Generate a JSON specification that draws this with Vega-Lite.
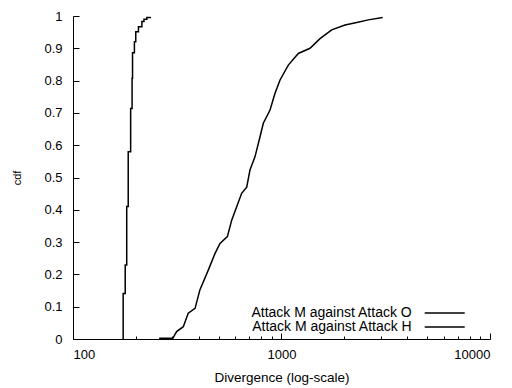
{
  "$schema": "https://vega.github.io/schema/vega-lite/v6.json",
  "width": 417,
  "height": 323,
  "autosize": {"type": "none"},
  "padding": {"left": 73, "top": 16, "right": 22, "bottom": 49},
  "background": "white",
  "config": {
    "view": {"stroke": null},
    "font": "Liberation Sans",
    "axis": {
      "grid": false,
      "domainColor": "black",
      "domainWidth": 1,
      "tickColor": "black",
      "tickWidth": 1,
      "labelColor": "black",
      "labelFontSize": 13,
      "titleColor": "black",
      "titleFontWeight": "normal",
      "labelOverlap": false
    }
  },
  "datasets": {
    "o": [
      {"series": "Attack M against Attack O", "x": 173, "y": 0},
      {"series": "Attack M against Attack O", "x": 174, "y": 0.141},
      {"series": "Attack M against Attack O", "x": 178, "y": 0.229},
      {"series": "Attack M against Attack O", "x": 181, "y": 0.41},
      {"series": "Attack M against Attack O", "x": 184, "y": 0.58},
      {"series": "Attack M against Attack O", "x": 189, "y": 0.714},
      {"series": "Attack M against Attack O", "x": 192, "y": 0.807},
      {"series": "Attack M against Attack O", "x": 193, "y": 0.886},
      {"series": "Attack M against Attack O", "x": 197, "y": 0.92},
      {"series": "Attack M against Attack O", "x": 200, "y": 0.951},
      {"series": "Attack M against Attack O", "x": 206, "y": 0.967},
      {"series": "Attack M against Attack O", "x": 214, "y": 0.983},
      {"series": "Attack M against Attack O", "x": 219, "y": 0.99},
      {"series": "Attack M against Attack O", "x": 226, "y": 0.995},
      {"series": "Attack M against Attack O", "x": 235, "y": 0.997}
    ],
    "h": [
      {"series": "Attack M against Attack H", "x": 259, "y": 0.002},
      {"series": "Attack M against Attack H", "x": 301, "y": 0.002},
      {"series": "Attack M against Attack H", "x": 314, "y": 0.023},
      {"series": "Attack M against Attack H", "x": 338, "y": 0.038},
      {"series": "Attack M against Attack H", "x": 357, "y": 0.08},
      {"series": "Attack M against Attack H", "x": 385, "y": 0.095},
      {"series": "Attack M against Attack H", "x": 406, "y": 0.152},
      {"series": "Attack M against Attack H", "x": 446, "y": 0.214},
      {"series": "Attack M against Attack H", "x": 480, "y": 0.265},
      {"series": "Attack M against Attack H", "x": 507, "y": 0.296},
      {"series": "Attack M against Attack H", "x": 550, "y": 0.317},
      {"series": "Attack M against Attack H", "x": 577, "y": 0.368},
      {"series": "Attack M against Attack H", "x": 614, "y": 0.415},
      {"series": "Attack M against Attack H", "x": 644, "y": 0.451},
      {"series": "Attack M against Attack H", "x": 681, "y": 0.47},
      {"series": "Attack M against Attack H", "x": 706, "y": 0.523},
      {"series": "Attack M against Attack H", "x": 746, "y": 0.564},
      {"series": "Attack M against Attack H", "x": 789, "y": 0.626},
      {"series": "Attack M against Attack H", "x": 818, "y": 0.668},
      {"series": "Attack M against Attack H", "x": 881, "y": 0.709},
      {"series": "Attack M against Attack H", "x": 931, "y": 0.761},
      {"series": "Attack M against Attack H", "x": 984, "y": 0.802},
      {"series": "Attack M against Attack H", "x": 1078, "y": 0.848},
      {"series": "Attack M against Attack H", "x": 1204, "y": 0.884},
      {"series": "Attack M against Attack H", "x": 1370, "y": 0.9},
      {"series": "Attack M against Attack H", "x": 1530, "y": 0.93},
      {"series": "Attack M against Attack H", "x": 1741, "y": 0.957},
      {"series": "Attack M against Attack H", "x": 2017, "y": 0.972},
      {"series": "Attack M against Attack H", "x": 2295, "y": 0.98},
      {"series": "Attack M against Attack H", "x": 2608, "y": 0.988},
      {"series": "Attack M against Attack H", "x": 3057, "y": 0.995}
    ]
  },
  "encoding": {
    "x": {
      "field": "x",
      "type": "quantitative",
      "scale": {"type": "log", "domain": [100, 10000], "nice": false},
      "axis": {
        "title": "Divergence (log-scale)",
        "titleFontSize": 13.5,
        "titlePadding": 6,
        "values": [100, 200, 300, 400, 500, 600, 700, 800, 900, 1000, 2000, 3000, 4000, 5000, 6000, 7000, 8000, 9000, 10000],
        "labelExpr": "indexof([100, 1000, 10000], datum.value) >= 0 ? format(datum.value, 'd') : ''",
        "tickSize": {"condition": {"test": "indexof([100, 1000, 10000], datum.value) >= 0", "value": -6}, "value": -3},
        "labelPadding": 15
      }
    },
    "y": {
      "field": "y",
      "type": "quantitative",
      "scale": {"domain": [0, 1], "nice": false},
      "axis": {
        "title": "cdf",
        "titleFontSize": 11,
        "titlePadding": 21,
        "values": [0, 0.1, 0.2, 0.3, 0.4, 0.5, 0.6, 0.7, 0.8, 0.9, 1],
        "format": "~g",
        "tickSize": -6,
        "labelPadding": 17
      }
    },
    "color": {
      "field": "series",
      "type": "nominal",
      "scale": {
        "domain": ["Attack M against Attack O", "Attack M against Attack H"],
        "range": ["black", "black"]
      },
      "legend": {
        "title": null,
        "orient": "none",
        "legendX": 364.7,
        "legendY": 290,
        "symbolType": "M-4,0H4",
        "symbolSize": 100,
        "symbolStrokeWidth": 1.5,
        "labelFontSize": 14,
        "labelColor": "black",
        "labelAlign": "right",
        "labelOffset": -40,
        "labelLimit": 0,
        "rowPadding": 0
      }
    }
  },
  "layer": [
    {
      "data": {"name": "o"},
      "mark": {"type": "line", "interpolate": "step-after", "strokeWidth": 1.5}
    },
    {
      "data": {"name": "h"},
      "mark": {"type": "line", "interpolate": "linear", "strokeWidth": 1.5}
    }
  ]
}
